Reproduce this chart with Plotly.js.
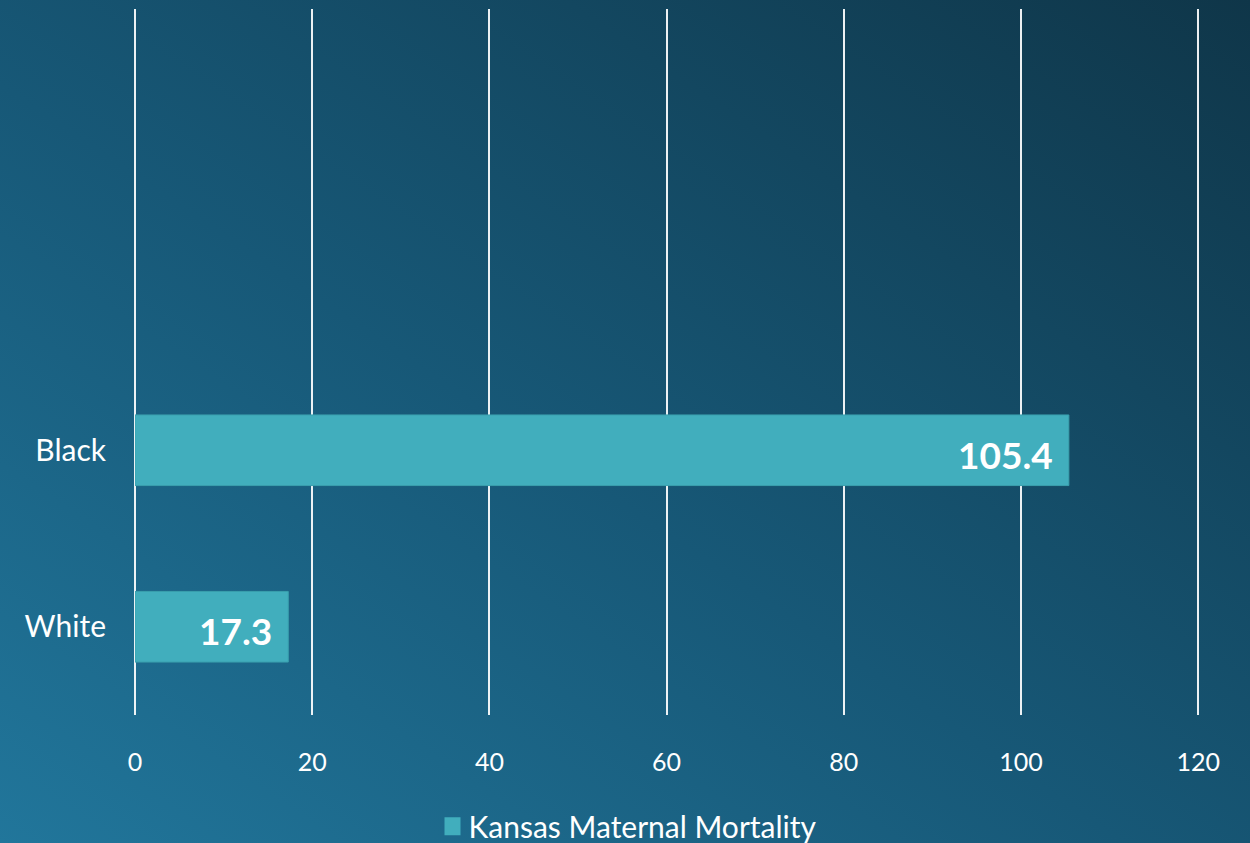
<!DOCTYPE html>
<html>
<head>
<meta charset="utf-8">
<script src="https://cdn.plot.ly/plotly-3.0.1.min.js"></script>
<style>
  html, body { margin: 0; padding: 0; width: 1250px; height: 843px; overflow: hidden; }
  body { background: linear-gradient(to top right, #21769b 0%, #175877 45%, #0f3649 100%); }
  #chart { width: 1250px; height: 843px; }
</style>
</head>
<body>
<div id="chart"></div>
<script>
// Maternal mortality per 100,000 live births, Kansas, by race
const categories = ['White', 'Black'];
const mortality = [17.3, 105.4];
const seriesName = 'Kansas Maternal Mortality';
const xTicks = [0, 20, 40, 60, 80, 100, 120];

const FONT = 'Lato, "Open Sans", sans-serif';
const BAR = '#41aebd';

const trace = {
  type: 'bar',
  orientation: 'h',
  y: categories,
  x: mortality,
  name: seriesName,
  width: 0.4,
  marker: { color: BAR, line: { color: '#3a9fad', width: 1 } },
  hoverinfo: 'x+y',
  showlegend: true
};

// value labels placed just inside the end of each bar
const annotations = mortality.map((v, i) => ({
  x: v, y: categories[i], xref: 'x', yref: 'y',
  text: '<b>' + v.toFixed(1) + '</b>',
  showarrow: false, xanchor: 'right', yanchor: 'middle',
  xshift: -14, yshift: -4,
  font: { family: FONT, size: 37, color: '#ffffff' }
}));

const layout = {
  width: 1250, height: 843,
  paper_bgcolor: 'rgba(0,0,0,0)',
  plot_bgcolor: 'rgba(0,0,0,0)',
  margin: { l: 135, r: 50, t: 9, b: 128 },
  font: { family: FONT, color: '#ffffff' },
  xaxis: {
    range: [0, 120.2],
    tickvals: xTicks,
    ticktext: xTicks.map(String),
    showgrid: true, gridcolor: 'rgba(255,255,255,0.92)', gridwidth: 2,
    zeroline: true, zerolinecolor: 'rgba(255,255,255,0.92)', zerolinewidth: 2,
    showline: false, ticks: '',
    ticklabelstandoff: 30,
    tickfont: { family: FONT, size: 25, color: '#ffffff' },
    fixedrange: true
  },
  yaxis: {
    type: 'category',
    categoryorder: 'array', categoryarray: categories,
    range: [-0.5, 3.5],
    showgrid: false, zeroline: false, showline: false, ticks: '',
    ticklabelstandoff: 28,
    tickfont: { family: FONT, size: 30, color: '#ffffff' },
    fixedrange: true
  },
  legend: {
    orientation: 'h',
    x: 0.5, xref: 'container', xanchor: 'center',
    y: 0.02, yref: 'container', yanchor: 'middle',
    font: { family: FONT, size: 30, color: '#ffffff' },
    bgcolor: 'rgba(0,0,0,0)',
    itemsizing: 'constant'
  },
  annotations: annotations,
  bargap: 0.6
};

Plotly.newPlot('chart', [trace], layout, { displayModeBar: false, staticPlot: true }).then(gd => {
  // larger square legend swatch, sitting close to its label
  gd.querySelectorAll('.legendpoints path').forEach(p => {
    p.setAttribute('d', 'M12,9H-4V-9H12Z');
    p.removeAttribute('clip-path');
    p.style.stroke = 'none';
  });
  gd.querySelectorAll('.legendpoints [clip-path]').forEach(el => el.removeAttribute('clip-path'));
});
</script>
</body>
</html>
